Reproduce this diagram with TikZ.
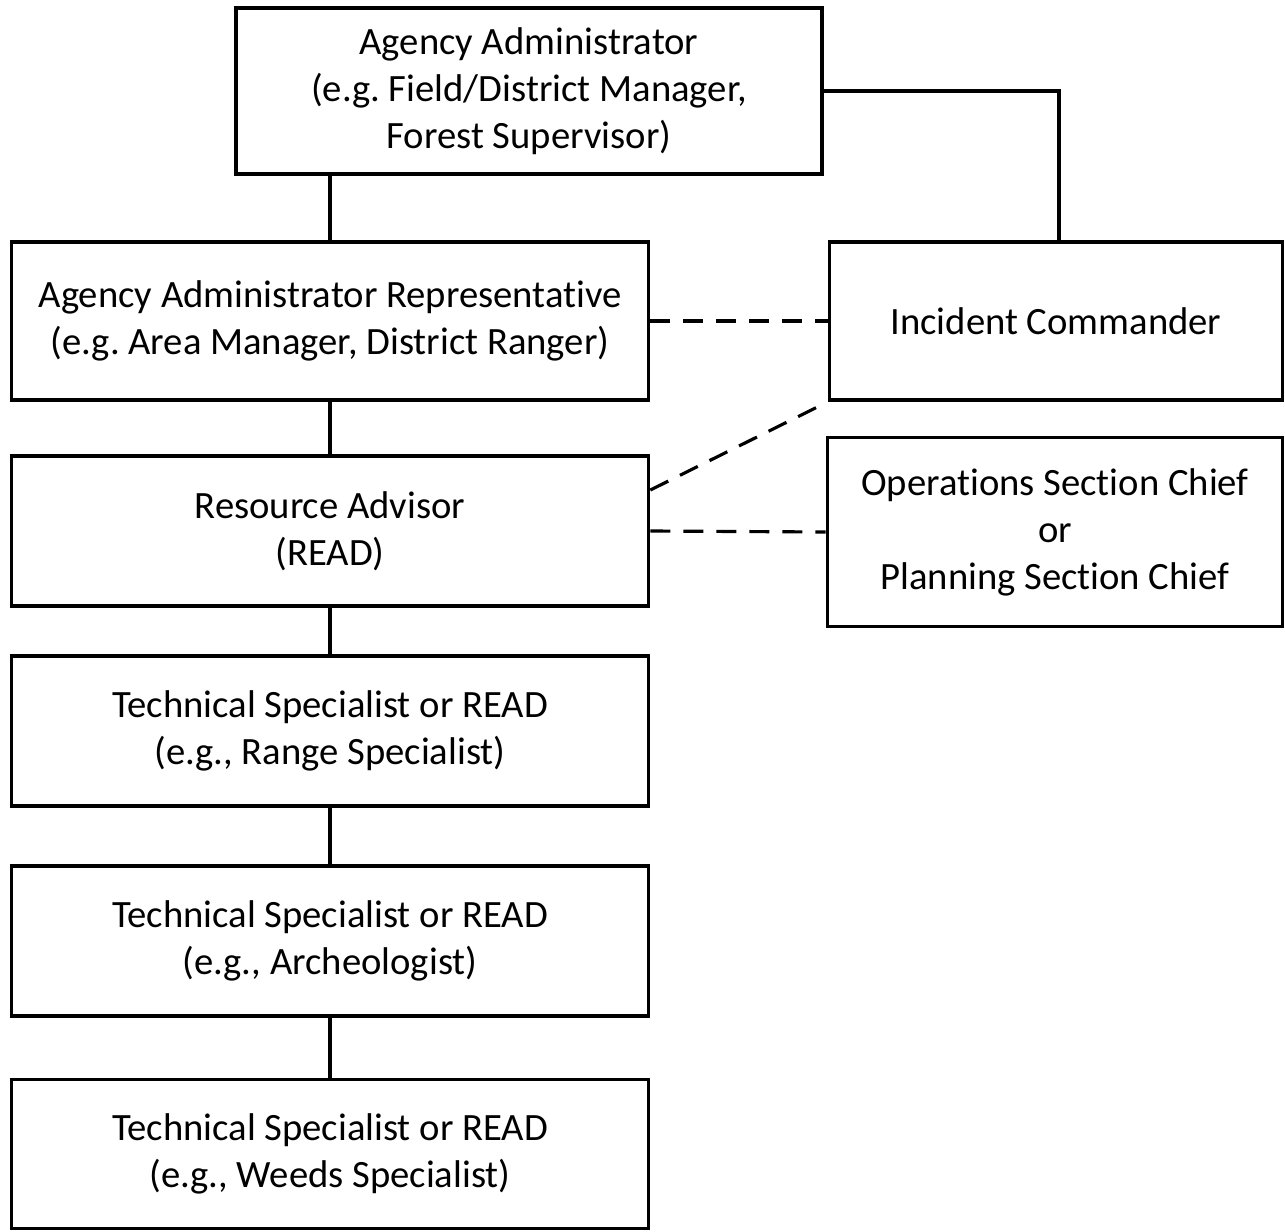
\documentclass[tikz,border=0pt]{standalone}
\usepackage{fontspec}
\setmainfont[Ligatures=NoCommon]{Carlito}
\frenchspacing
\tikzset{
	box/.style={draw, line width=2.2pt, align=center, inner sep=0pt, font=\fontsize{22}{26.7}\selectfont},
	link/.style={line width=2.2pt},
	dashlink/.style={line width=1.8pt, dash pattern=on 0.4cm off 0.26cm}
}
\begin{document}
\begin{tikzpicture}[x=0.02cm, y=-0.02cm]
		\useasboundingbox (0,0) rectangle (1285,1231);
		\node[box, minimum width=11.72cm, minimum height=3.32cm] (admin) at (529,91) {Agency Administrator\\(e.g. Field/District Manager,\\Forest Supervisor)};
		\node[box, minimum width=12.74cm, minimum height=3.16cm] (rep) at (330,321) {Agency Administrator Representative\\(e.g. Area Manager, District Ranger)};
		\node[box, minimum width=9.06cm, minimum height=3.16cm] (ic) at (1056,321) {Incident Commander};
		\node[box, minimum width=12.74cm, minimum height=3cm] (read) at (330,531) {Resource Advisor\\(READ)};
		\node[box, minimum width=9.1cm, minimum height=3.78cm] (osc) at (1055,532) {Operations Section Chief\\or\\Planning Section Chief};
		\node[box, minimum width=12.74cm, minimum height=3cm] (range) at (330,731) {Technical Specialist or READ\\(e.g., Range Specialist)};
		\node[box, minimum width=12.74cm, minimum height=3cm] (arch) at (330,941) {Technical Specialist or READ\\(e.g., Archeologist)};
		\node[box, minimum width=12.74cm, minimum height=2.98cm] (weeds) at (330,1154) {Technical Specialist or READ\\(e.g., Weeds Specialist)};
		%
		\draw[link] (admin.south -| rep.north) -- (rep.north);
		\draw[link] (admin.east) -| ([xshift=0.06cm]ic.north);
		\draw[link] (rep) -- (read);
		\draw[link] (read) -- (range);
		\draw[link] (range) -- (arch);
		\draw[link] (arch) -- (weeds);
		\draw[dashlink] (rep.east) -- (ic.west);
		\draw[dashlink] ([yshift=0.82cm]read.east) -- (ic.south west);
		\draw[dashlink] (read.east) -- (osc.west);
	\end{tikzpicture}
\end{document}
